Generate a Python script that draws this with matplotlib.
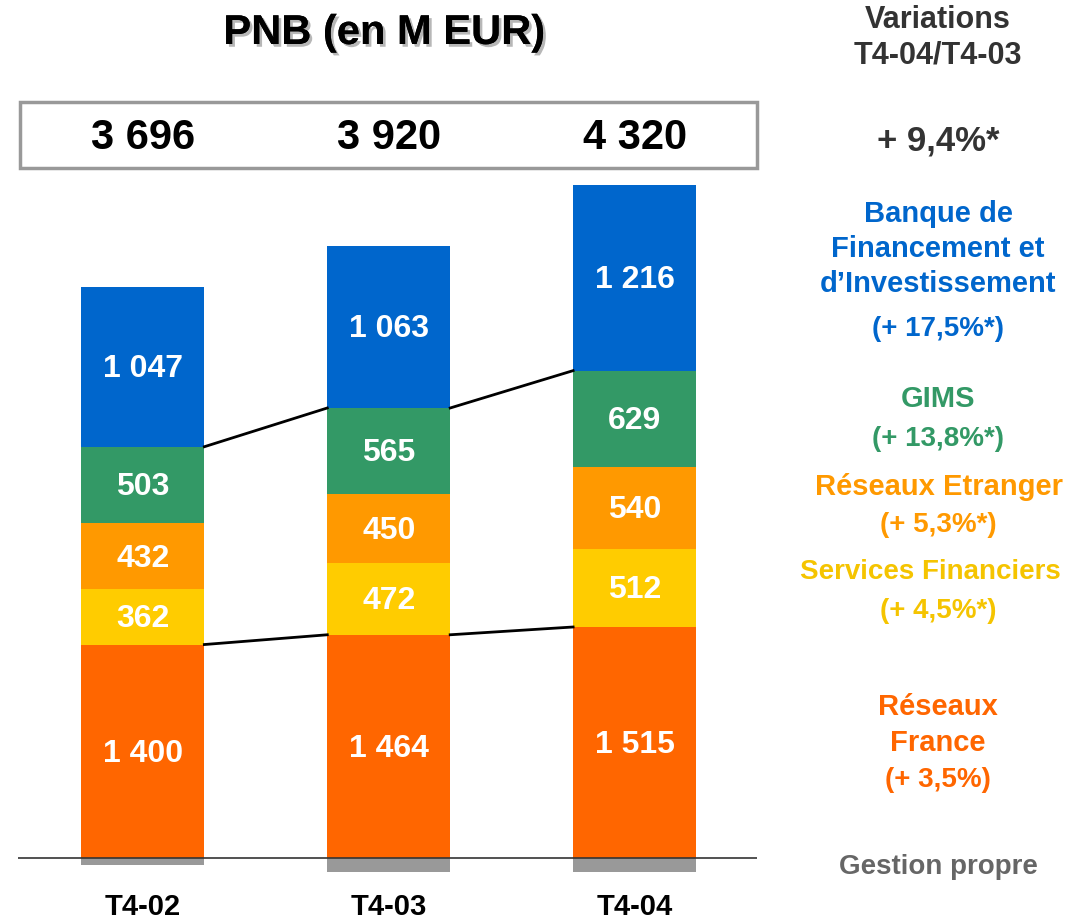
import matplotlib
matplotlib.use("Agg")
import matplotlib.pyplot as plt
import matplotlib.patheffects as pe
from matplotlib.patches import Rectangle
import numpy as np

plt.rcParams['font.family'] = ['Liberation Sans', 'DejaVu Sans']
plt.rcParams['font.weight'] = 'bold'

# données (M EUR)
periods = ['T4-02', 'T4-03', 'T4-04']
totals = ['3 696', '3 920', '4 320']
reseaux_france = [1400, 1464, 1515]
services_fin = [362, 472, 512]
reseaux_etranger = [432, 450, 540]
gims = [503, 565, 629]
bfi = [1047, 1063, 1216]
gestion_propre = [-48, -94, -92]

segments = [
    (reseaux_france, '#FF6600'),
    (services_fin, '#FFCC00'),
    (reseaux_etranger, '#FF9900'),
    (gims, '#339966'),
    (bfi, '#0066CC'),
]

# légende de droite : (texte, couleur, x px, y px, taille)
side_labels = [
    ('Variations', '#333333', 938, 20, 22),
    ('T4-04/T4-03', '#333333', 938, 56, 22),
    ('+ 9,4%*', '#333333', 938, 141, 25),
    ('Banque de', '#0066CC', 938, 214, 21),
    ('Financement et', '#0066CC', 938, 249, 21),
    ('d\u2019Investissement', '#0066CC', 938, 284, 21),
    ('(+ 17,5%*)', '#0066CC', 938, 329, 20),
    ('GIMS', '#339966', 938, 399, 21),
    ('(+ 13,8%*)', '#339966', 938, 439, 20),
    ('Réseaux Etranger', '#FF9900', 939, 487, 21),
    ('(+ 5,3%*)', '#FF9900', 938, 525, 20),
    ('Services Financiers', '#F5C400', 930, 572, 20),
    ('(+ 4,5%*)', '#F5C400', 938, 611, 20),
    ('Réseaux', '#FF6600', 938, 707, 21),
    ('France', '#FF6600', 938, 743, 21),
    ('(+ 3,5%)', '#FF6600', 938, 780, 20),
    ('Gestion propre', '#666666', 938, 867, 20),
]

W, H = 1072, 921
fig = plt.figure(figsize=(W / 100, H / 100), dpi=100)

def fy(py):
    return 1 - py / H

ax = fig.add_axes([18 / W, fy(880), (757 - 18) / W, (880 - 180) / H])
x = np.arange(len(periods))
w = 0.5

bottom = np.zeros(len(periods))
tops = []
for vals, col in segments:
    vals = np.array(vals, dtype=float)
    ax.bar(x, vals, w, bottom=bottom, color=col, zorder=2)
    for xi, b, v in zip(x, bottom, vals):
        ax.text(xi, b + v / 2 - 15, f"{int(v):,}".replace(',', ' '), ha='center', va='center',
                color='white', fontsize=23, fontweight='bold', zorder=4)
    bottom = bottom + vals
    tops.append(bottom.copy())

ax.bar(x, gestion_propre, w, color='#999999', zorder=2)
ax.axhline(0, color='#333333', lw=1.2, zorder=3)

# lignes de liaison entre barres
for level in (tops[0], tops[3]):
    for i in range(len(x) - 1):
        ax.plot([x[i] + w / 2, x[i + 1] - w / 2], [level[i], level[i + 1]],
                color='black', lw=2, zorder=3)

ax.set_xlim(-0.508, 2.498)
ax.set_ylim(-144, 4446)
ax.set_xticks(x)
ax.set_xticklabels(periods, fontsize=21, fontweight='bold')
ax.tick_params(axis='x', length=0, pad=9)
ax.set_yticks([])
for s in ax.spines.values():
    s.set_visible(False)
ax.patch.set_alpha(0)

# titre avec ombre
fig.text(384 / W, fy(33), 'PNB (en M EUR)', ha='center', va='center', fontsize=30,
         fontweight='bold', color='black',
         path_effects=[pe.withSimplePatchShadow(offset=(2, -2), shadow_rgbFace='#888888', alpha=0.6),
                       pe.Normal()])

# cadre des totaux
fig.patches.append(Rectangle((20 / W, fy(168)), (757 - 20) / W, (168 - 102) / H,
                             transform=fig.transFigure, facecolor='white',
                             edgecolor='#999999', lw=2.5))
for xi, t in zip(x, totals):
    px = ax.transData.transform((xi, 0))[0]
    fig.text(px / W, fy(138), t, ha='center', va='center', fontsize=30,
             fontweight='bold', color='black')

for txt, col, px, py, size in side_labels:
    fig.text(px / W, fy(py), txt, ha='center', va='center', fontsize=size,
             fontweight='bold', color=col)

fig.savefig('out.png', dpi=100)
